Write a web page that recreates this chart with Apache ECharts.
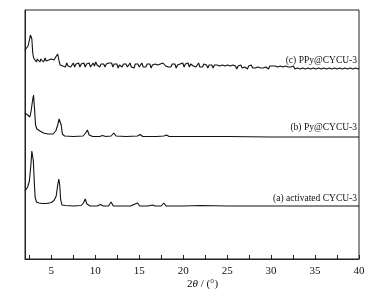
<!DOCTYPE html>
<html>
<head>
<meta charset="utf-8">
<script src="https://cdn.jsdelivr.net/npm/echarts@6/dist/echarts.min.js"></script>
<style>
  html, body { margin: 0; padding: 0; background: #fff; }
  #chart { width: 384px; height: 297px; }
</style>
</head>
<body>
<div id="chart"></div>
<script>
// x = 2theta (deg), y = stacked intensity (arbitrary, offset per pattern)
const xTicks = [2.5, 5, 7.5, 10, 12.5, 15, 17.5, 20, 22.5, 25, 27.5, 30, 32.5, 35, 37.5, 40];
const xLabels = [5, 10, 15, 20, 25, 30, 35, 40];

// (a) activated CYCU-3
const aData = [
  [2.0, 68], [2.3, 72], [2.5, 78], [2.65, 92], [2.78, 108], [2.85, 110], [2.95, 98], [3.05, 78],
  [3.15, 62], [3.3, 57], [3.6, 56], [4.0, 55.5], [4.5, 55.5], [5.0, 56.5], [5.3, 58.5], [5.55, 63],
  [5.72, 74], [5.85, 80], [5.95, 74], [6.05, 60], [6.2, 54], [6.6, 53.5], [7.5, 53], [8.4, 53.5],
  [8.65, 56], [8.85, 60], [9.05, 55], [9.4, 53], [10.2, 53], [10.6, 54.5], [10.9, 53], [11.5, 53],
  [11.8, 57], [12.05, 53], [13.0, 53], [14.0, 53], [14.8, 56], [15.05, 53], [16.0, 53], [16.5, 54],
  [16.8, 53], [17.5, 53], [17.8, 56], [18.05, 53], [20.0, 53], [22.0, 53.5], [25.0, 53], [30.0, 53],
  [35.0, 53], [40.0, 53]
];

// (b) Py@CYCU-3
const bData = [
  [2.0, 146], [2.3, 144], [2.55, 142], [2.7, 148], [2.85, 158], [2.97, 164], [3.07, 152], [3.2, 134],
  [3.35, 130], [3.7, 128], [4.1, 126], [4.6, 125], [5.2, 125], [5.5, 128], [5.72, 134], [5.88, 140],
  [6.02, 142], [6.12, 134], [6.25, 125], [6.5, 123], [7.5, 122.5], [8.6, 123], [8.9, 126], [9.1, 129],
  [9.3, 124], [9.7, 122.5], [10.5, 122.5], [10.8, 123.5], [11.2, 122.5], [11.8, 123], [12.1, 126],
  [12.35, 123], [13.5, 122.5], [14.8, 123], [15.1, 124.5], [15.4, 122.5], [17.0, 122.5], [17.8, 123],
  [18.1, 124], [18.4, 122.5], [21.0, 122.5], [25.0, 122.5], [30.0, 122], [35.0, 122], [40.0, 122]
];

// (c) PPy@CYCU-3 (noisy)
const cData = [
  [2.0, 209], [2.2, 210], [2.35, 213], [2.5, 219], [2.62, 224], [2.7, 225], [2.78, 220], [2.88, 206],
  [2.98, 201], [3.1, 199], [3.2, 202], [3.3, 197], [3.4, 200], [3.5, 198], [3.6, 201], [3.7, 197],
  [3.8, 200], [3.9, 198], [4.0, 201], [4.1, 197], [4.2, 199], [4.3, 201], [4.4, 198], [4.5, 200],
  [4.6, 197], [4.7, 199], [4.8, 201], [4.9, 198], [5.0, 200], [5.1, 198], [5.2, 201], [5.3, 199],
  [5.4, 200], [5.5, 202], [5.62, 203], [5.72, 205], [5.8, 203], [5.9, 197], [6.0, 194],
  [6.15, 196], [6.3, 193], [6.45, 195], [6.6, 192], [6.75, 196], [6.9, 193], [7.05, 195], [7.2, 192],
  [7.35, 194], [7.5, 196], [7.65, 192], [7.8, 195], [7.95, 193], [8.1, 196], [8.25, 192], [8.4, 195],
  [8.55, 193], [8.7, 196], [8.85, 192], [9.0, 195], [9.15, 193], [9.3, 196], [9.45, 192], [9.6, 194],
  [9.75, 196], [9.9, 193], [10.05, 197], [10.2, 194], [10.35, 196], [10.5, 192], [10.65, 195], [10.8, 193],
  [10.95, 195], [11.1, 192], [11.25, 195], [11.4, 193], [11.55, 196], [11.7, 194], [11.85, 196], [12.0, 192],
  [12.15, 195], [12.3, 193], [12.45, 195], [12.6, 191], [12.75, 194], [12.9, 196], [13.05, 192], [13.2, 195],
  [13.35, 193], [13.5, 195], [13.65, 192], [13.8, 194], [13.95, 196], [14.1, 192], [14.25, 194], [14.4, 191],
  [14.55, 195], [14.7, 193], [14.85, 195], [15.0, 192], [15.15, 194], [15.3, 196], [15.45, 192], [15.6, 194],
  [15.75, 192], [15.9, 195], [16.05, 193], [16.2, 195], [16.35, 191], [16.5, 194], [16.65, 192], [16.8, 195],
  [16.95, 193], [17.1, 194], [17.25, 192], [17.4, 195], [17.55, 193], [17.7, 196], [17.85, 197], [18.0, 193],
  [18.15, 195], [18.3, 192], [18.45, 194], [18.6, 192], [18.75, 195], [18.9, 193], [19.05, 195], [19.2, 191],
  [19.35, 194], [19.5, 192], [19.65, 195], [19.8, 193], [19.95, 196], [20.1, 192], [20.25, 195], [20.4, 193],
  [20.55, 196], [20.7, 192], [20.85, 195], [21.0, 197], [21.15, 193], [21.3, 195], [21.45, 192], [21.6, 194],
  [21.75, 196], [21.9, 192], [22.05, 194], [22.2, 192], [22.35, 195], [22.5, 193], [22.65, 194], [22.8, 191],
  [22.95, 194], [23.1, 192], [23.25, 194], [23.4, 191], [23.55, 194], [23.7, 192], [23.85, 194], [24.0, 192],
  [24.15, 193], [24.3, 191], [24.45, 194], [24.6, 192], [24.75, 193], [24.9, 191], [25.05, 194], [25.2, 192],
  [25.35, 193], [25.5, 191], [25.65, 194], [25.8, 192], [25.95, 193], [26.1, 190], [26.25, 193], [26.4, 192],
  [26.55, 194], [26.7, 191], [26.85, 193], [27.0, 192], [27.15, 193], [27.3, 190], [27.45, 193], [27.6, 192],
  [27.75, 194], [27.9, 191], [28.05, 193], [28.2, 191], [28.35, 193], [28.5, 192], [28.65, 194], [28.8, 191],
  [28.95, 193], [29.1, 191], [29.25, 193], [29.4, 192], [29.55, 193], [29.7, 190], [29.85, 193], [30.0, 192],
  [30.15, 193], [30.3, 191], [30.45, 193], [30.6, 191], [30.75, 192], [30.9, 190], [31.05, 193], [31.2, 191],
  [31.35, 192], [31.5, 190], [31.65, 193], [31.8, 191], [31.95, 192], [32.1, 190], [32.25, 192], [32.4, 191],
  [32.55, 193], [32.7, 190], [32.85, 192], [33.0, 191], [33.15, 192], [33.3, 190], [33.45, 192], [33.6, 191],
  [33.75, 193], [33.9, 190], [34.05, 192], [34.2, 191], [34.35, 192], [34.5, 190], [34.65, 192], [34.8, 191],
  [34.95, 192], [35.1, 190], [35.25, 192], [35.4, 191], [35.55, 193], [35.7, 190], [35.85, 192], [36.0, 191],
  [36.15, 192], [36.3, 190], [36.45, 192], [36.6, 191], [36.75, 193], [36.9, 190], [37.05, 192], [37.2, 191],
  [37.35, 192], [37.5, 190], [37.65, 192], [37.8, 191], [37.95, 192], [38.1, 190], [38.25, 192], [38.4, 191],
  [38.55, 192], [38.7, 190], [38.85, 192], [39.0, 191], [39.15, 192], [39.3, 190], [39.45, 192], [39.6, 191],
  [39.75, 192], [39.9, 190], [40.0, 191]
];

const seriesNames = ['(a) activated CYCU-3', '(b) Py@CYCU-3', '(c) PPy@CYCU-3'];

const chart = echarts.init(document.getElementById('chart'));
const serif = 'Liberation Serif, Times New Roman, serif';

const lineSeries = (name, data, dy) => ({
  type: 'line',
  name: name,
  data: data,
  showSymbol: false,
  smooth: false,
  lineStyle: {color: '#111', width: 1.1},
  endLabel: {
    show: true,
    formatter: '{a}',
    color: '#111',
    fontFamily: serif,
    fontSize: 9.5,
    align: 'right',
    offset: [-10, dy],
  },
  animation: false,
});

chart.setOption({
  animation: false,
  grid: {
    left: 25, right: 25, top: 10, bottom: 38,
    show: true, borderColor: '#222', borderWidth: 1,
  },
  xAxis: {
    type: 'value',
    min: 2,
    max: 40,
    axisLine: {show: true, lineStyle: {color: '#222'}},
    axisTick: {
      show: true, inside: true, length: 4,
      customValues: xTicks,
      lineStyle: {color: '#222'},
    },
    axisLabel: {
      customValues: xLabels,
      color: '#111', fontFamily: serif, fontSize: 11, margin: 7,
    },
    splitLine: {show: false},
  },
  yAxis: {
    type: 'value',
    min: 0,
    max: 249,
    axisLine: {show: true, lineStyle: {color: '#222'}},
    axisTick: {show: false},
    axisLabel: {show: false},
    splitLine: {show: false},
  },
  graphic: [{
    type: 'text',
    left: 187,
    top: 279,
    style: {
      text: '2{i|θ} / (°)',
      fontFamily: serif,
      fontSize: 11,
      fill: '#111',
      rich: {i: {fontStyle: 'italic', fontFamily: serif, fontSize: 11, fill: '#111'}},
    },
  }],
  series: [
    lineSeries(seriesNames[0], aData, -8),
    lineSeries(seriesNames[1], bData, -10),
    lineSeries(seriesNames[2], cData, -8),
  ],
});
</script>
</body>
</html>
